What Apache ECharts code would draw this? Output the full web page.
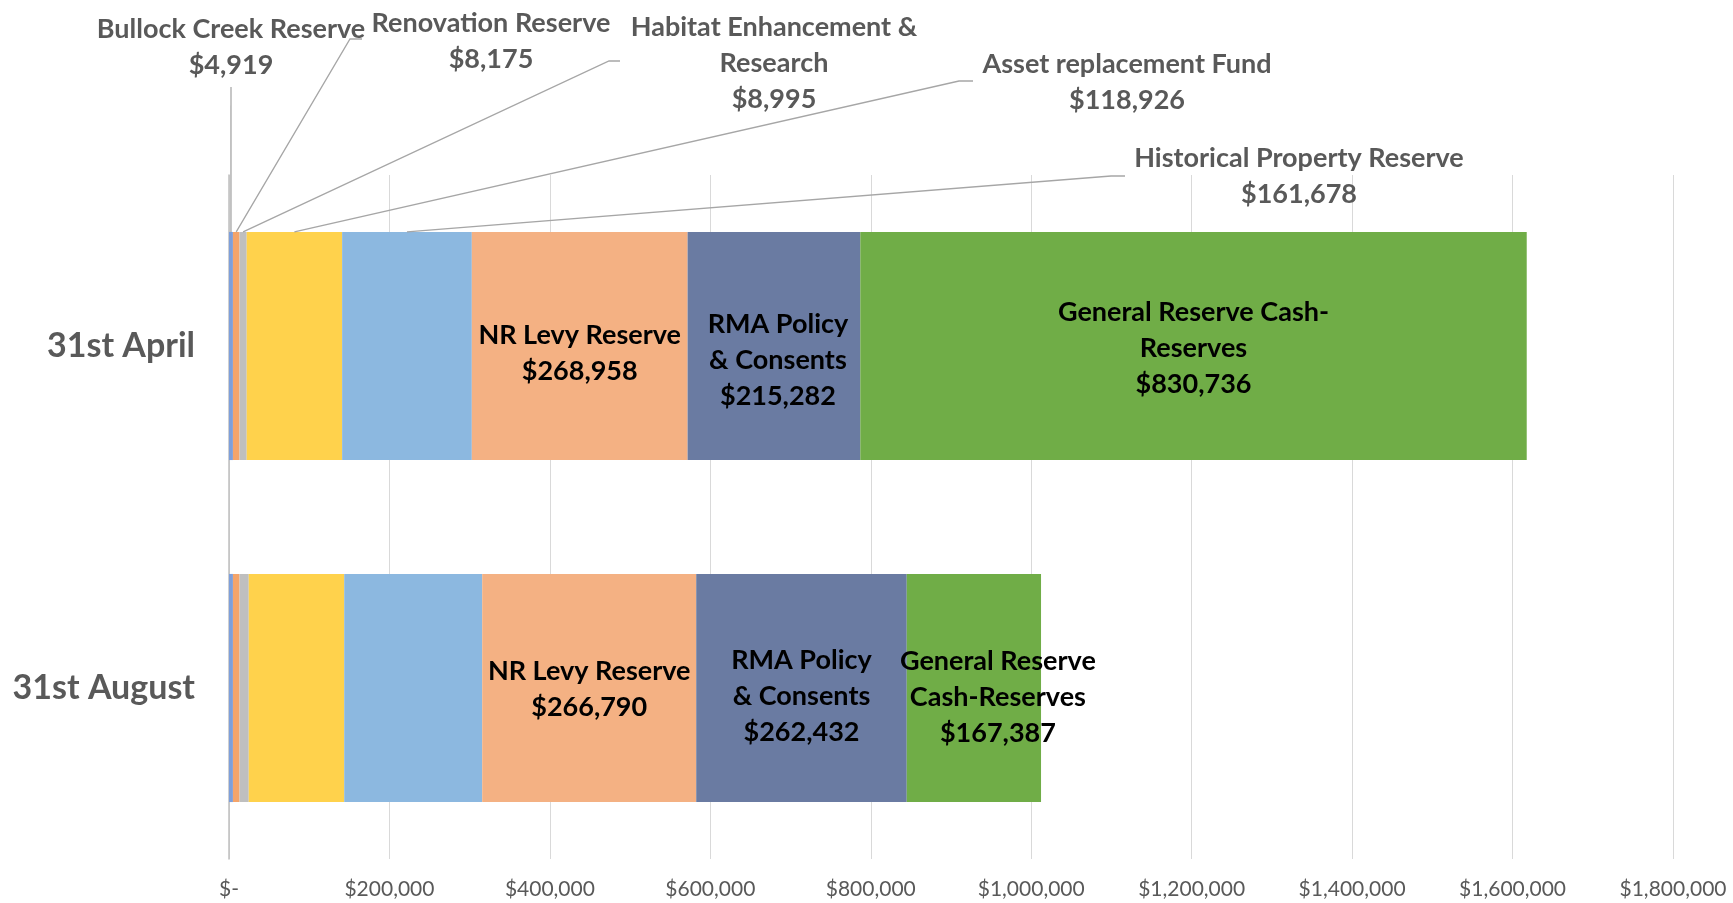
<!DOCTYPE html>
<html>
<head>
<meta charset="utf-8">
<title>Reserves</title>
<script src="https://cdn.jsdelivr.net/npm/echarts@6/dist/echarts.min.js"></script>
<style>
  html, body { margin: 0; padding: 0; background: #fff; }
  #main { width: 1733px; height: 903px; }
</style>
</head>
<body>
<div id="main"></div>
<script>
// y axis is inverted, so first category is the top bar
const categories = ['31st April', '31st August'];

const seriesNames = [
  'Bullock Creek Reserve',
  'Renovation Reserve',
  'Habitat Enhancement & Research',
  'Asset replacement Fund',
  'Historical Property Reserve',
  'NR Levy Reserve',
  'RMA Policy & Consents',
  'General Reserve Cash-Reserves'
];

// values per series: [31st April, 31st August]
const bullockCreek = [4919, 4919];
const renovation = [8175, 8200];
const habitat = [8995, 11500];
const assetFund = [118926, 119000];
const historical = [161678, 172000];
const nrLevy = [268958, 266790];
const rmaPolicy = [215282, 262432];
const generalReserve = [830736, 167387];

const seriesValues = [bullockCreek, renovation, habitat, assetFund, historical, nrLevy, rmaPolicy, generalReserve];

// x axis ticks
const xTicks = [0, 200000, 400000, 600000, 800000, 1000000, 1200000, 1400000, 1600000, 1800000];

// data label text (null = no label)
const aprilLabels = ['Bullock Creek Reserve', 'Renovation Reserve', 'Habitat Enhancement &\nResearch',
  'Asset replacement Fund', 'Historical Property Reserve', 'NR Levy Reserve', 'RMA Policy\n& Consents',
  'General Reserve Cash-\nReserves'];
const augustLabels = [null, null, null, null, null, 'NR Levy Reserve', 'RMA Policy\n& Consents',
  'General Reserve\nCash-Reserves'];
const labelNames = [aprilLabels, augustLabels];

const colors = ['#7E9FDA', '#F4A46A', '#BFBFBF', '#FFD24C', '#8CB8E0', '#F4B183', '#6A7BA2', '#70AD47'];

// small nudges of the inside labels, like excel placed them [dx, dy]
const labelShift = [
  [null, null, null, null, null, [0, 7], [4, 14], [0, 2]],
  [null, null, null, null, null, [0, 1], [0, 8], [24, 9]]
];

// callout placement for the small April segments (pixels)
const calloutAt = [[231, 47], [491, 41], [774, 63], [1127, 82], [1299, 176]];
const leaderFrom = [
  [[231, 87]],
  [[362, 39], [350, 39]],
  [[620, 61], [609, 61]],
  [[973, 81], [959, 81]],
  [[1125, 176], [1111, 176]]
];

const font = 'Lato, "Open Sans", sans-serif';
const gapRatio = 0.333;
const money = v => '$' + v.toLocaleString('en-US');

let chart = echarts.init(document.getElementById('main'));

let series = seriesValues.map((vals, i) => {
  const inside = i >= 5;
  return {
    name: seriesNames[i],
    type: 'bar',
    stack: 'total',
    barCategoryGap: (gapRatio * 100) + '%',
    itemStyle: { color: colors[i] },
    data: vals.map((v, d) => {
      let lbl = { show: labelNames[d][i] != null };
      if (labelShift[d][i]) lbl.offset = labelShift[d][i];
      return { value: v, label: lbl };
    }),
    label: {
      position: 'inside',
      fontFamily: font,
      fontWeight: 'bold',
      fontSize: 27,
      lineHeight: 36,
      align: 'center',
      color: inside ? '#000' : '#595959',
      formatter: p => labelNames[p.dataIndex][p.seriesIndex] + '\n' + money(p.value)
    },
    labelLayout: inside ? null : function (p) {
      if (p.dataIndex !== 0) return {};
      return { x: calloutAt[i][0], y: calloutAt[i][1], align: 'center', verticalAlign: 'middle' };
    }
  };
});

let option = {
  animation: false,
  grid: { left: 229, right: 60, top: 175, bottom: 44, outerBoundsMode: 'none' },
  xAxis: {
    type: 'value',
    min: xTicks[0],
    max: xTicks[xTicks.length - 1],
    interval: xTicks[1] - xTicks[0],
    axisLine: { show: false },
    axisTick: { show: false },
    splitLine: { lineStyle: { color: '#D9D9D9', width: 1 } },
    axisLabel: {
      color: '#595959',
      fontFamily: font,
      fontSize: 21,
      margin: 20,
      formatter: v => v === 0 ? '$-' : money(v)
    }
  },
  yAxis: {
    type: 'category',
    inverse: true,
    data: categories,
    axisTick: { show: false },
    axisLine: { lineStyle: { color: '#BFBFBF', width: 1.5 } },
    axisLabel: {
      color: '#595959',
      fontFamily: font,
      fontWeight: 'bold',
      fontSize: 34,
      margin: 34
    }
  },
  series: series
};

chart.setOption(option);

// leader lines from callouts to the top centre of each April segment
function drawLeaders() {
  const c0 = chart.convertToPixel({ gridIndex: 0 }, [0, 0]);
  const c1 = chart.convertToPixel({ gridIndex: 0 }, [0, 1]);
  const band = Math.abs(c1[1] - c0[1]);
  const barTop = c0[1] - band * (1 - gapRatio) / 2;
  let start = 0;
  let lines = [];
  for (let i = 0; i < leaderFrom.length; i++) {
    const v = seriesValues[i][0];
    const mid = chart.convertToPixel({ gridIndex: 0 }, [start + v / 2, 0]);
    start += v;
    lines.push({
      type: 'polyline',
      silent: true,
      z: 100,
      shape: { points: leaderFrom[i].concat([[mid[0], barTop]]) },
      style: { stroke: '#A6A6A6', lineWidth: 1.3, fill: null }
    });
  }
  chart.setOption({ graphic: lines });
}
drawLeaders();

window.addEventListener('resize', function () {
  chart.resize();
  drawLeaders();
});
</script>
</body>
</html>
